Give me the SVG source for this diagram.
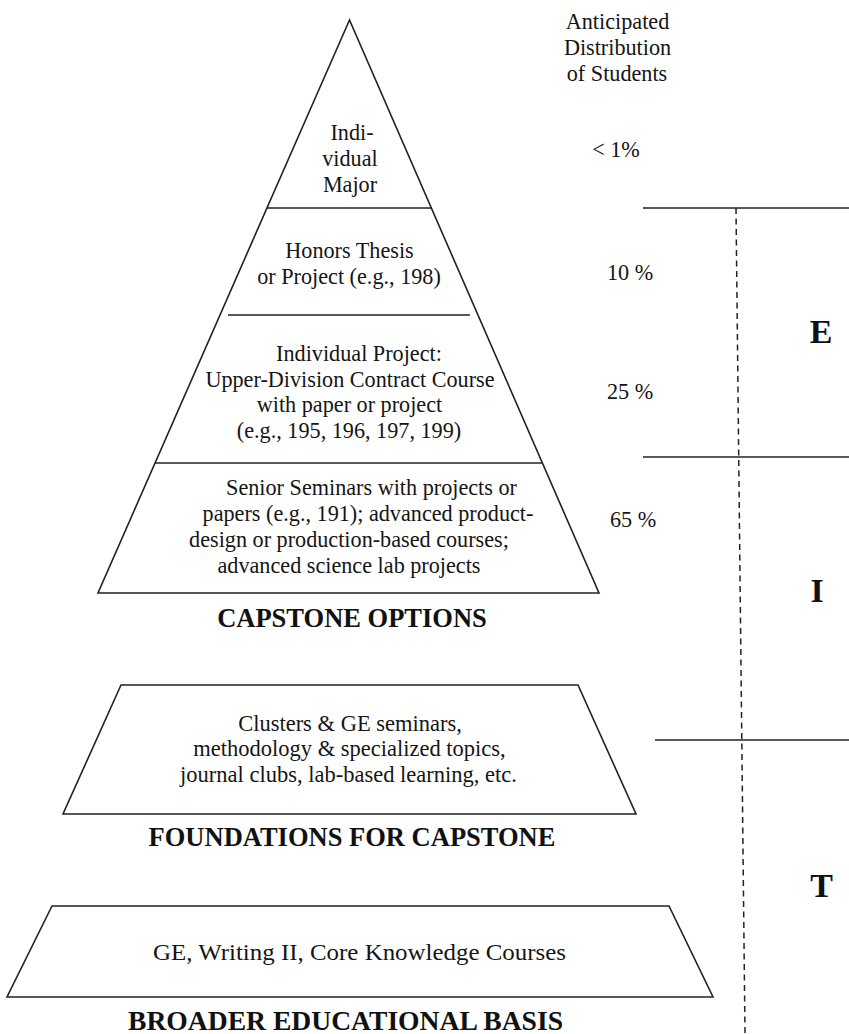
<svg xmlns="http://www.w3.org/2000/svg" width="849" height="1034" viewBox="0 0 849 1034">
<style>
.ln{stroke:#222;stroke-width:1.6;fill:none}
.sh{stroke:#222;stroke-width:1.6;fill:#fff}
.t{font-family:"Liberation Serif","Times New Roman",serif;font-size:22.2px;fill:#151515;text-anchor:middle}
.b{font-family:"Liberation Serif","Times New Roman",serif;font-size:26.5px;font-weight:bold;fill:#111;text-anchor:middle}
.L{font-family:"Liberation Serif","Times New Roman",serif;font-size:34px;font-weight:bold;fill:#111;text-anchor:middle}
.d{stroke:#222;stroke-width:1.5;stroke-dasharray:6 4.5;fill:none}
</style>
<rect width="849" height="1034" fill="#fff"/>
<g id="pyramid">
<polygon class="sh" points="349.5,20 98,593 599,593"/>
</g>
<g id="connectors">
<line class="ln" x1="267" y1="208" x2="431" y2="208"/>
<line class="ln" x1="228" y1="315" x2="470" y2="315"/>
<line class="ln" x1="155" y1="463" x2="543" y2="463"/>
<line class="ln" x1="643" y1="208" x2="849" y2="208"/>
<line class="ln" x1="643" y1="457" x2="849" y2="457"/>
<line class="ln" x1="655" y1="740" x2="849" y2="740"/>
<line class="d" x1="736" y1="208" x2="745" y2="1034"/>
</g>
<g id="individual-major">
<text class="t" x="352" y="140">Indi-</text>
<text class="t" x="350" y="166">vidual</text>
<text class="t" x="350" y="192">Major</text>
</g>
<g id="honors">
<text class="t" x="349.5" y="258">Honors Thesis</text>
<text class="t" x="349" y="284">or Project (e.g., 198)</text>
</g>
<g id="individual-project">
<text class="t" x="359" y="361">Individual Project:</text>
<text class="t" x="350" y="387">Upper-Division Contract Course</text>
<text class="t" x="349.5" y="412">with paper or project</text>
<text class="t" x="349" y="438">(e.g., 195, 196, 197, 199)</text>
</g>
<g id="senior-seminars">
<text class="t" x="371.5" y="495">Senior Seminars with projects or</text>
<text class="t" x="368" y="521">papers (e.g., 191); advanced product-</text>
<text class="t" x="349" y="547">design or production-based courses;</text>
<text class="t" x="349" y="573">advanced science lab projects</text>
</g>
<g id="capstone-label">
<text class="b" x="352" y="627">CAPSTONE OPTIONS</text>
</g>
<g id="foundations">
<polygon class="sh" points="121,685 578,685 636,814 63,814"/>
<text class="t" x="350" y="731" style="font-size:22.5px">Clusters &amp; GE seminars,</text>
<text class="t" x="349.5" y="756" style="font-size:22.5px">methodology &amp; specialized topics,</text>
<text class="t" x="348.5" y="782" style="font-size:22.5px">journal clubs, lab-based learning, etc.</text>
<text class="b" x="352" y="846">FOUNDATIONS FOR CAPSTONE</text>
</g>
<g id="broader">
<polygon class="sh" points="52,906 669,906 713,997 7,997"/>
<text class="t" x="359.5" y="960" style="font-size:23px" textLength="413" lengthAdjust="spacingAndGlyphs">GE, Writing II, Core Knowledge Courses</text>
<text class="b" x="345.5" y="1030" style="font-size:27px" textLength="435" lengthAdjust="spacingAndGlyphs">BROADER EDUCATIONAL BASIS</text>
</g>
<g id="distribution">
<text class="t" x="617.5" y="29">Anticipated</text>
<text class="t" x="617.5" y="55">Distribution</text>
<text class="t" x="617" y="81">of Students</text>
<text class="t" x="616" y="157">&lt; 1%</text>
<text class="t" x="630" y="280">10 %</text>
<text class="t" x="630" y="399">25 %</text>
<text class="t" x="633" y="527">65 %</text>
</g>
<g id="levels">
<text class="L" x="821" y="343">E</text>
<text class="L" x="817" y="602">I</text>
<text class="L" x="821.5" y="897">T</text>
</g>
</svg>
